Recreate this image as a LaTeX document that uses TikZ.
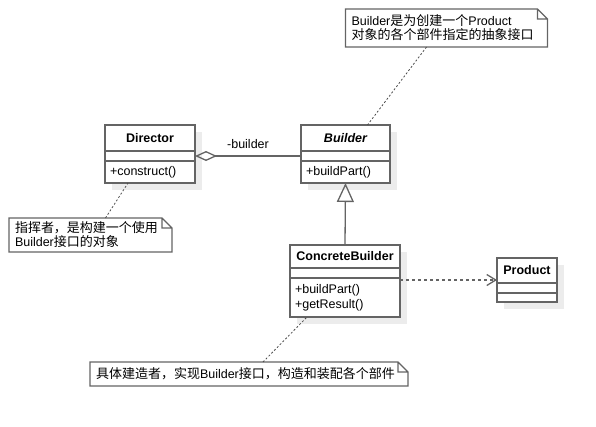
\documentclass[tikz,border=0pt]{standalone}
\usepackage{fontspec}
\setmainfont{Liberation Sans}
\newfontfamily\cjk[Scale=1.04]{Noto Sans CJK SC}
\usetikzlibrary{positioning,arrows.meta,backgrounds}
\definecolor{umlline}{RGB}{100,100,100}
\definecolor{umlshadow}{RGB}{236,236,236}

\begin{document}
\begin{tikzpicture}[x=1pt,y=-1pt,font=\fontsize{12.5}{15}\selectfont,
    head/.style={draw=umlline,line width=1.3pt,fill=white,inner sep=0pt,outer sep=0pt,minimum width=#1,font=\fontsize{12.5}{15}\selectfont\bfseries},
    part/.style={draw=umlline,line width=1.3pt,fill=white,inner xsep=5pt,inner ysep=0pt,outer sep=0pt,text width=#1,align=left},
    note/.style={inner xsep=6pt,inner ysep=0pt,outer sep=0pt,text width=#1,align=left,font=\fontsize{12.5}{14}\selectfont},
    noteline/.style={draw=umlline,line width=1.2pt,line join=miter},
    link/.style={draw=black!70,line width=0.8pt,dash pattern=on 2pt off 2pt},
    line/.style={draw=umlline,line width=1.3pt}]
    \useasboundingbox (0,0) rectangle (596,426);

    % classes
    \node[head=90pt,minimum height=26pt] (dir) at (150,138) {Director};
    \node[part=80pt,minimum height=10pt,below=0pt of dir] (dir-a) {};
    \node[part=80pt,minimum height=22pt,below=0pt of dir-a] (dir-o) {+construct()};

    \node[head=89pt,minimum height=26pt,font=\fontsize{12.5}{15}\selectfont\bfseries\itshape] (bld) at (345.5,138) {Builder};
    \node[part=79pt,minimum height=10pt,below=0pt of bld] (bld-a) {};
    \node[part=79pt,minimum height=22pt,below=0pt of bld-a] (bld-o) {+buildPart()};

    \node[head=110pt,minimum height=23pt] (cb) at (345,256.5) {ConcreteBuilder};
    \node[part=100pt,minimum height=10pt,below=0pt of cb] (cb-a) {};
    \node[part=100pt,minimum height=39pt,below=0pt of cb-a] (cb-o) {+buildPart()\\+getResult()};

    \node[head=60pt,minimum height=25pt] (prd) at (527,270.5) {Product};
    \node[part=50pt,minimum height=10pt,below=0pt of prd] (prd-a) {};
    \node[part=50pt,minimum height=9pt,below=0pt of prd-a] (prd-o) {};

    \begin{scope}[on background layer]
        \foreach \a/\b in {dir/dir-o,bld/bld-o,cb/cb-o,prd/prd-o}
            \fill[umlshadow] ([shift={(7,7)}]\a.north west) rectangle ([shift={(7,7)}]\b.south east);
    \end{scope}

    % relations
    \draw[line,-{Diamond[open,length=22pt,width=10pt]}] (bld-a.west) -- (dir-a.east)
        node[midway,above=3pt]{-builder};
    \draw[line,-{Triangle[open,length=19pt,width=17pt]}] (cb.north) -- (bld-o.south);
    \coordinate (d) at ([yshift=-2pt]cb-o.north east);
    \draw[line,dash pattern=on 3pt off 3pt,-{Straight Barb[length=9pt,width=11pt]}] (d) -- (d -| prd.west);

    % notes
    \node[note=190pt,minimum height=38pt] (n1) at (446.5,28)
        {Builder{\cjk 是为创建一个}Product\\{\cjk 对象的各个部件指定的抽象接口}};
    \node[note=151pt,minimum height=34pt] (n2) at (90.5,235)
        {{\cjk 指挥者，是构建一个使用}\\Builder{\cjk 接口的对象}};
    \node[note=306pt,minimum height=24pt] (n3) at (249,374)
        {{\cjk 具体建造者，实现}Builder{\cjk 接口，构造和装配各个部件}};
    \foreach \n in {n1,n2,n3}
        \draw[noteline] (\n.north west) -- ([xshift=-10pt]\n.north east) -- ([yshift=-10pt]\n.north east)
            -- (\n.south east) -- (\n.south west) -- cycle
            ([xshift=-10pt]\n.north east) |- ([yshift=-10pt]\n.north east);

    \draw[link] ([xshift=-20pt]n1.south) -- ([xshift=22pt]bld.north);
    \draw[link] ([xshift=15pt]n2.north) -- ([xshift=-22pt]dir-o.south);
    \draw[link] ([xshift=14pt]n3.north) -- ([xshift=-38pt]cb-o.south);
\end{tikzpicture}
\end{document}
